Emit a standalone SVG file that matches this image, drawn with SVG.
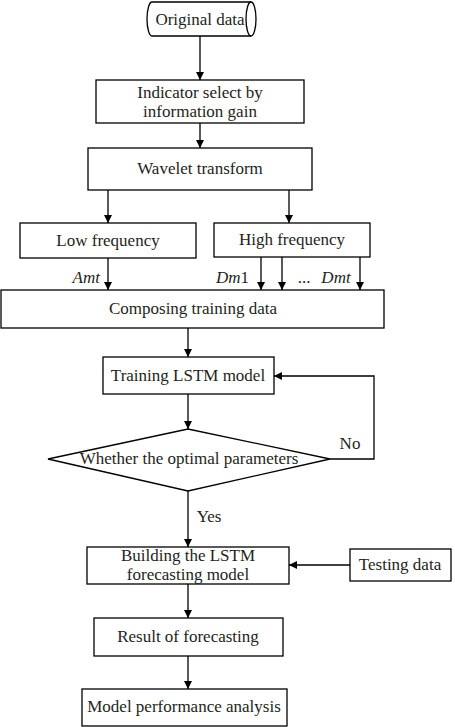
<svg xmlns="http://www.w3.org/2000/svg" width="455" height="727" viewBox="0 0 455 727">
<defs>
<marker id="ah" viewBox="0 0 10 10" refX="10" refY="5" markerWidth="8" markerHeight="8" markerUnits="userSpaceOnUse" orient="auto">
<path d="M0,0 L10,5 L0,10 Z" fill="#000"/>
</marker>
</defs>
<style>
.b{fill:#fff;stroke:#000;stroke-width:1.3}
.t{font-family:"Liberation Serif","Times New Roman",serif;font-size:17px;fill:#231f20;text-anchor:middle}
.i{font-style:italic}
.c{fill:none;stroke:#000;stroke-width:1.3;marker-end:url(#ah)}
.l{fill:none;stroke:#000;stroke-width:1.3}
</style>
<rect width="455" height="727" fill="#fff"/>
<g id="connectors">
<path class="c" d="M200,36 V80"/>
<path class="c" d="M200,123 V148"/>
<path class="c" d="M108,190 V223"/>
<path class="c" d="M289,190 V223"/>
<path class="c" d="M108,258 V290"/>
<path class="c" d="M261,257 V290"/>
<path class="c" d="M282,257 V290"/>
<path class="c" d="M360,257 V290"/>
<path class="c" d="M188,328 V357"/>
<path class="c" d="M188,394 V429"/>
<path class="c" d="M330,459 H374 V376 H274"/>
<path class="c" d="M188,491 V547"/>
<path class="c" d="M350,565 H289"/>
<path class="c" d="M188,584 V618"/>
<path class="c" d="M188,656 V689"/>
<text class="t i" x="100" y="283" style="text-anchor:end">Amt</text>
<text class="t" x="249" y="283" style="text-anchor:end"><tspan class="i">Dm</tspan>1</text>
<text class="t" x="304" y="283">...</text>
<text class="t i" x="336" y="283">Dmt</text>
<text class="t" x="350" y="449">No</text>
<text class="t" x="209" y="522">Yes</text>
</g>
<g id="original">
<path class="b" d="M152,2 H251 A5,17 0 0 1 251,36 H152 A5,17 0 0 1 152,2 Z"/>
<path class="l" d="M251,2 A5,17 0 0 0 251,36"/>
<text class="t" x="200" y="25">Original data</text>
</g>
<g id="indicator">
<rect class="b" x="96" y="80" width="208" height="43"/>
<text class="t" x="200" y="98">Indicator select by</text>
<text class="t" x="200" y="117">information gain</text>
</g>
<g id="wavelet">
<rect class="b" x="88" y="148" width="224" height="42"/>
<text class="t" x="200" y="174">Wavelet transform</text>
</g>
<g id="low">
<rect class="b" x="20" y="223" width="176" height="35"/>
<text class="t" x="108" y="246">Low frequency</text>
</g>
<g id="high">
<rect class="b" x="214" y="223" width="156" height="34"/>
<text class="t" x="292" y="245">High frequency</text>
</g>
<g id="composing">
<rect class="b" x="1" y="290" width="383" height="38"/>
<text class="t" x="193" y="314">Composing training data</text>
</g>
<g id="training">
<rect class="b" x="103" y="357" width="171" height="37"/>
<text class="t" x="188" y="381">Training LSTM model</text>
</g>
<g id="decision">
<path class="b" d="M48,459 L188,429 L330,459 L188,491 Z"/>
<text class="t" x="189" y="464">Whether the optimal parameters</text>
</g>
<g id="building">
<rect class="b" x="87" y="547" width="202" height="37"/>
<text class="t" x="188" y="561">Building the LSTM</text>
<text class="t" x="188" y="580">forecasting model</text>
</g>
<g id="testing">
<rect class="b" x="350" y="549" width="101" height="32"/>
<text class="t" x="400" y="570">Testing data</text>
</g>
<g id="result">
<rect class="b" x="94" y="618" width="189" height="38"/>
<text class="t" x="188" y="642">Result of forecasting</text>
</g>
<g id="model">
<rect class="b" x="82" y="689" width="205" height="37"/>
<text class="t" x="184" y="712">Model performance analysis</text>
</g>
</svg>
